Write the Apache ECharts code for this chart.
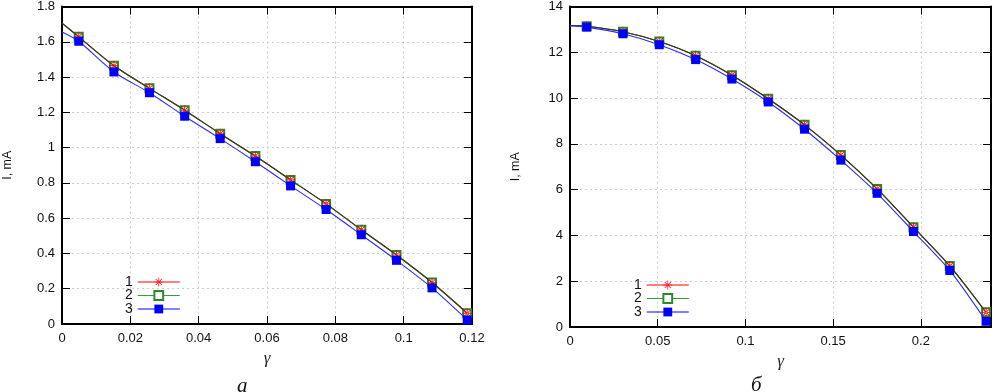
<!DOCTYPE html>
<html>
<head>
<meta charset="utf-8">
<script src="https://cdn.jsdelivr.net/npm/echarts@6/dist/echarts.min.js"></script>
<style>
  html, body { margin: 0; padding: 0; background: #fff; }
  #chart { width: 994px; height: 392px; }
</style>
</head>
<body>
<div id="chart"></div>
<script>
// (a) left panel: gamma values, first point is the curve start (no marker)
const gammaA = [0, 0.0049, 0.0152, 0.0256, 0.0359, 0.0463, 0.0566, 0.0669, 0.0773, 0.0876, 0.0979, 0.1083, 0.1186];
const curA1 = [1.706, 1.628, 1.464, 1.336, 1.212, 1.079, 0.952, 0.817, 0.681, 0.534, 0.391, 0.235, 0.061];
const curA2 = [1.706, 1.628, 1.464, 1.336, 1.212, 1.079, 0.952, 0.817, 0.681, 0.534, 0.391, 0.235, 0.061];
const curA3 = [1.655, 1.603, 1.429, 1.311, 1.178, 1.051, 0.920, 0.783, 0.649, 0.506, 0.361, 0.205, 0.023];

// (б) right panel
const gammaB = [0, 0.0095, 0.0302, 0.0509, 0.0716, 0.0923, 0.1130, 0.1337, 0.1544, 0.1751, 0.1958, 0.2165, 0.2372];
const curB1 = [13.17, 13.14, 12.90, 12.47, 11.85, 11.00, 9.97, 8.83, 7.51, 6.03, 4.36, 2.67, 0.64];
const curB2 = [13.17, 13.14, 12.90, 12.47, 11.85, 11.00, 9.97, 8.83, 7.51, 6.03, 4.36, 2.67, 0.64];
const curB3 = [13.15, 13.10, 12.81, 12.33, 11.68, 10.83, 9.83, 8.64, 7.29, 5.84, 4.17, 2.47, 0.25];

const seriesNames = ['1', '2', '3'];
const legendColors = ['#ff0000', '#3a9a3a', '#0000ff'];
const markerColors = ['#ff0000', '#2a8a2a', '#0000ff'];
// curves 1 and 2 lie on top of each other and come out dark olive
const plotLineColors = ['#3a3a18', '#3a3a18', '#2a2aff'];
// asterisk built from thin bars
const starPath = 'path://M-0.08,-1L0.08,-1L0.08,1L-0.08,1Z' +
  'M-1,-0.08L1,-0.08L1,0.08L-1,0.08Z' +
  'M-0.764,-0.65L0.65,0.764L0.764,0.65L-0.65,-0.764Z' +
  'M-0.65,0.764L0.764,-0.65L0.65,-0.764L-0.764,0.65Z';
const symbols = [starPath, 'emptyRect', 'rect'];
const symbolSizes = [10, 8, 9];
const seriesZ = [4, 3, 5];

const font = 'Liberation Sans, Arial, sans-serif';

const toData = (xs, ys) => xs.map((x, i) => i === 0 ? {value: [x, ys[i]], symbol: 'none'} : [x, ys[i]]);

const makeSeries = (idx, xs, ys, axisIndex) => ({
  name: seriesNames[idx],
  type: 'line',
  xAxisIndex: axisIndex,
  yAxisIndex: axisIndex,
  data: toData(xs, ys),
  smooth: 0.25,
  symbol: symbols[idx],
  symbolSize: symbolSizes[idx],
  showAllSymbol: true,
  z: seriesZ[idx],
  lineStyle: {width: 1.1, color: plotLineColors[idx]},
  itemStyle: {
    color: markerColors[idx],
    borderColor: markerColors[idx],
    borderWidth: idx === 1 ? 1.1 : 0
  },
  emphasis: {disabled: true}
});

const mainX = (gridIndex, max, interval, showMax, nameGap) => ({
  type: 'value',
  gridIndex: gridIndex,
  min: 0,
  max: max,
  interval: interval,
  name: 'γ',
  nameLocation: 'middle',
  nameGap: nameGap,
  nameTextStyle: {fontFamily: 'Liberation Serif, serif', fontStyle: 'italic', fontSize: 17, color: '#222'},
  axisLine: {show: true, onZero: false, lineStyle: {color: '#000', width: 2}},
  axisTick: {show: true, inside: true, length: 8, lineStyle: {color: '#000', width: 1}},
  axisLabel: {color: '#111', fontSize: 13, fontFamily: font, margin: 8, showMaxLabel: showMax},
  splitLine: {show: true, lineStyle: {color: '#cccccc', type: [2, 3], width: 1}}
});

const mirrorX = (gridIndex, max, interval) => ({
  type: 'value',
  gridIndex: gridIndex,
  position: 'top',
  min: 0,
  max: max,
  interval: interval,
  axisLine: {show: true, onZero: false, lineStyle: {color: '#000', width: 2}},
  axisTick: {show: true, inside: true, length: 8, lineStyle: {color: '#000', width: 1}},
  axisLabel: {show: false},
  splitLine: {show: false}
});

const mainY = (gridIndex, max, interval) => ({
  type: 'value',
  gridIndex: gridIndex,
  min: 0,
  max: max,
  interval: interval,
  name: 'I, mA',
  nameLocation: 'middle',
  nameRotate: 90,
  nameGap: 48,
  nameTextStyle: {fontFamily: font, fontSize: 12.5, color: '#111'},
  axisLine: {show: true, onZero: false, lineStyle: {color: '#000', width: 2}},
  axisTick: {show: true, inside: true, length: 8, lineStyle: {color: '#000', width: 1}},
  axisLabel: {color: '#111', fontSize: 13, fontFamily: font, margin: 7},
  splitLine: {show: true, lineStyle: {color: '#cccccc', type: [2, 3], width: 1}}
});

const mirrorY = (gridIndex, max, interval) => ({
  type: 'value',
  gridIndex: gridIndex,
  position: 'right',
  min: 0,
  max: max,
  interval: interval,
  axisLine: {show: true, onZero: false, lineStyle: {color: '#000', width: 2}},
  axisTick: {show: true, inside: true, length: 8, lineStyle: {color: '#000', width: 1}},
  axisLabel: {show: false},
  splitLine: {show: false}
});

const legendItems = seriesNames.map((n, i) => ({
  name: n,
  lineStyle: {color: legendColors[i], width: 1.2}
}));

const makeLegend = (left, top) => ({
  orient: 'vertical',
  left: left,
  top: top,
  align: 'right',
  itemWidth: 42,
  itemHeight: 11,
  itemGap: -0.5,
  padding: 0,
  selectedMode: false,
  textStyle: {fontFamily: font, fontSize: 14, color: '#111'},
  data: legendItems
});

const myChart = echarts.init(document.getElementById('chart'), null, {renderer: 'canvas'});

const option = {
  animation: false,
  backgroundColor: '#fff',
  grid: [
    {left: 62, top: 5, width: 410, height: 319, show: false},
    {left: 570, top: 5, width: 421, height: 322, show: false}
  ],
  xAxis: [
    mainX(0, 0.12, 0.02, true, 12),
    mainX(1, 0.24, 0.05, false, 15),
    mirrorX(0, 0.12, 0.02),
    mirrorX(1, 0.24, 0.05)
  ],
  yAxis: [
    mainY(0, 1.8, 0.2),
    mainY(1, 14, 2),
    mirrorY(0, 1.8, 0.2),
    mirrorY(1, 14, 2)
  ],
  legend: [makeLegend(125, 275), makeLegend(634, 278)],
  graphic: [
    {type: 'text', left: 237, top: 376, style: {text: 'а', font: 'italic 21px Liberation Serif, serif', fill: '#111'}},
    {type: 'text', left: 751, top: 375, style: {text: 'б', font: 'italic 21px Liberation Serif, serif', fill: '#111'}}
  ],
  series: [
    makeSeries(0, gammaA, curA1, 0),
    makeSeries(1, gammaA, curA2, 0),
    makeSeries(2, gammaA, curA3, 0),
    makeSeries(0, gammaB, curB1, 1),
    makeSeries(1, gammaB, curB2, 1),
    makeSeries(2, gammaB, curB3, 1)
  ]
};

option && myChart.setOption(option);
</script>
</body>
</html>
